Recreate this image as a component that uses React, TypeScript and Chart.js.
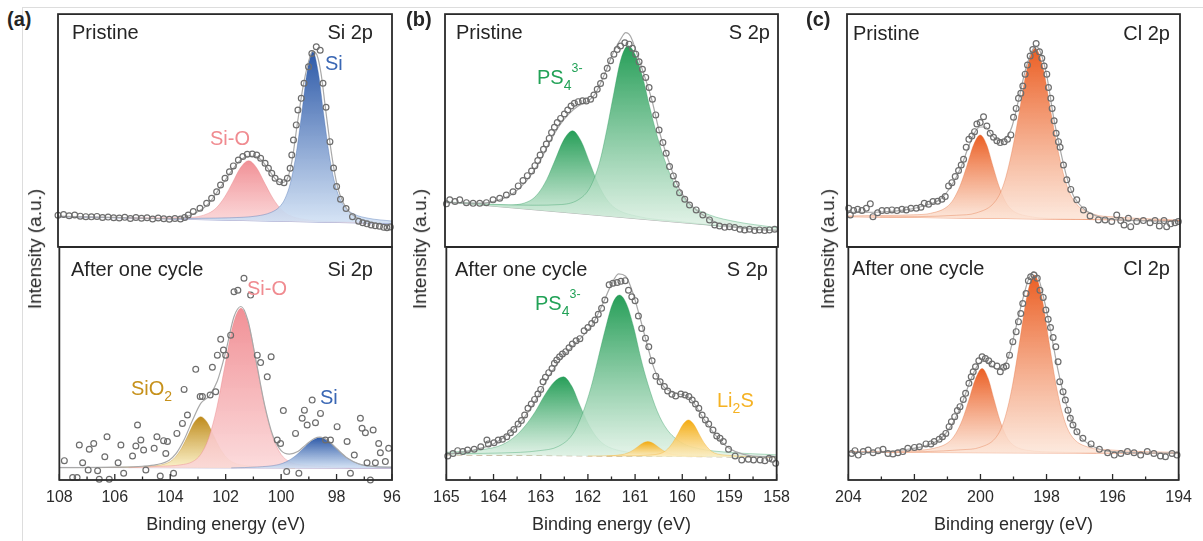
import React, { useEffect, useRef } from 'react';
import { Chart, registerables } from 'chart.js';

Chart.register(...registerables);

const FONT = '"Liberation Sans", Arial, Helvetica, sans-serif';
const TEXT = '#252525';
Chart.defaults.font.family = FONT;
Chart.defaults.color = TEXT;

// ---------------- (a) Si 2p, pristine ----------------
const aTopDataX = [108.0,107.8,107.6,107.4,107.2,107.0,106.8,106.6,106.4,106.2,106.0,105.8,105.6,105.4,105.2,105.0,104.8,104.6,104.4,104.2,104.0,103.8,103.6,103.45,103.32,103.14,102.9,102.66,102.48,102.3,102.16,102.0,101.84,101.7,101.52,101.36,101.2,101.02,100.86,100.72,100.56,100.44,100.32,100.2,100.04,99.88,99.76,99.66,99.6,99.54,99.44,99.38,99.26,99.16,99.0,98.88,98.72,98.58,98.48,98.37,98.23,98.1,97.99,97.85,97.65,97.42,97.2,97.05,96.9,96.75,96.6,96.45,96.3,96.18,96.06];
const aTopDataY = [13.6,13.9,13.4,13.7,13.2,13.0,12.9,13.1,12.6,12.8,12.5,12.4,12.7,12.2,12.6,12.3,12.5,12.0,12.4,12.1,11.9,12.2,12.0,12.6,13.7,15.2,16.6,18.7,20.9,23.7,26.6,29.5,32.3,34.8,37.3,38.8,39.8,39.9,39.5,38.1,35.9,33.8,31.6,29.5,28.0,27.6,29.5,33.8,39.5,45.9,52.4,58.8,63.8,70.3,77.4,83.1,86.0,84.5,70.3,60.0,45.2,33.9,25.9,20.5,16.5,13.0,11.0,10.4,9.9,9.4,9.1,8.9,8.4,8.2,8.6];
const aTopEnvX = [108,106,104.5,103.8,103.4,103.0,102.6,102.2,101.8,101.5,101.2,100.95,100.7,100.45,100.2,100.0,99.8,99.6,99.4,99.2,99.0,98.85,98.7,98.55,98.4,98.25,98.1,97.95,97.75,97.5,97.2,96.8,96.4,96];
const aTopEnvY = [13.2,12.7,12.2,12.1,12.9,15.0,18.5,25.0,32.0,36.6,38.9,39.0,37.3,33.5,29.3,27.6,28.5,36.5,53.0,68.5,79.5,84.0,82.5,74.5,60.5,46.5,34.5,25.5,19.0,14.6,12.2,10.6,9.7,9.4];
const aTopBgX = [108, 96];
const aTopBgY = [13.0, 10.0];
const aTopSiOX = [105.5,104.8,103.33,102.6,102.31,102.02,101.73,101.44,101.15,100.86,100.57,100.28,99.99,99.7,98.97,97.5,97.0];
const aTopSiOY = [12.38,12.5,12.6,14.4,16.8,21.3,27.6,34.1,37.0,33.9,27.3,20.9,16.2,13.6,11.5,10.7,10.25];
const aTopSiX = [104.0,102.85,101.85,100.85,100.35,100.05,99.85,99.65,99.45,99.25,99.05,98.85,98.65,98.45,98.25,98.05,97.85,97.65,97.35,96.85,96.0];
const aTopSiY = [12.0,12.3,12.5,13.3,14.8,17.1,20.6,27.5,39.5,56.7,75.2,84.0,75.1,56.5,39.2,27.1,20.1,16.5,14.0,12.3,11.1];

// ---------------- (a) Si 2p, after one cycle ----------------
const aBotDataX = [107.82,107.52,107.36,107.28,107.16,106.96,106.92,106.76,106.62,106.56,106.36,106.28,106.2,105.88,105.78,105.68,105.36,105.24,105.18,105.06,104.96,104.88,104.58,104.48,104.36,104.24,104.16,104.1,103.88,103.76,103.56,103.5,103.38,103.08,102.92,102.84,102.56,102.48,102.36,102.3,102.18,102.08,102.0,101.82,101.7,101.56,101.34,101.1,100.86,100.74,100.5,100.36,100.14,100.02,99.92,99.8,99.48,99.36,99.24,99.16,99.06,98.88,98.76,98.58,98.4,98.22,97.98,97.62,97.5,97.36,97.14,97.08,96.96,96.9,96.78,96.68,96.6,96.48,96.42,96.24,96.12];
const aBotDataY = [8.3,1.1,1.1,15.0,7.4,4.3,13.2,15.7,4.0,0.3,10.0,18.6,0.3,7.4,15.0,2.9,10.3,14.6,23.6,17.2,12.9,4.3,13.6,18.6,1.7,16.9,11.4,16.5,2.9,20.0,24.3,38.9,27.9,47.5,35.8,35.8,36.5,48.4,37.9,53.6,60.4,55.8,53.6,62.2,80.8,81.5,86.6,79.4,53.6,50.4,44.3,52.9,17.2,15.7,29.8,3.6,20.0,2.9,26.5,30.0,23.6,34.3,24.6,28.6,17.2,17.2,22.9,16.5,2.9,10.7,26.5,22.2,20.3,7.4,0.0,21.5,7.4,15.7,11.7,7.9,13.6];
const aBotEnvX = [108,106,105,104.5,104.05,103.8,103.5,103.2,102.9,102.6,102.3,102.0,101.7,101.45,101.2,100.9,100.6,100.3,100.0,99.7,99.4,99.1,98.8,98.6,98.3,98.0,97.6,97.2,96.6,96];
const aBotEnvY = [5.3,5.5,5.9,6.6,8.4,11.2,17.3,25.5,32.9,36.0,42.5,55.0,70.1,74.5,68.6,50.9,32.5,19.1,12.6,11.1,12.2,15.2,17.8,18.4,16.9,13.5,9.3,6.9,5.7,5.5];
const aBotBgX = [108, 96];
const aBotBgY = [5.4, 5.1];
const aBotSiO2X = [106.5,105.8,104.63,104.05,103.82,103.59,103.36,103.13,102.9,102.67,102.44,102.21,101.98,101.75,101.17,100.0,99.5];
const aBotSiO2Y = [5.3,5.5,6.0,7.6,9.8,13.7,19.2,24.8,27.2,24.8,19.2,13.7,9.8,7.6,6.0,5.4,5.2];
const aBotSiOX = [105.5,104.35,103.63,103.19,102.9,102.61,102.32,102.03,101.74,101.45,101.16,100.87,100.58,100.29,100.0,99.71,99.27,98.55,97.5];
const aBotSiOY = [5.3,5.9,6.5,7.9,11.0,18.1,31.0,48.9,66.3,73.7,66.3,48.9,31.0,18.1,11.0,7.9,6.5,5.9,5.2];
const aBotSiX = [101.8,100.85,100.1,99.8,99.5,99.2,98.9,98.6,98.3,98.0,97.7,97.4,97.1,96.35,96.0];
const aBotSiY = [5.2,5.6,6.6,7.9,10.2,13.5,16.8,18.3,16.8,13.5,10.2,7.9,6.6,5.6,5.4];

// ---------------- (b) S 2p, pristine ----------------
const bTopDataX = [164.97,164.9,164.79,164.69,164.55,164.41,164.27,164.13,163.99,163.85,163.71,163.57,163.46,163.36,163.27,163.18,163.11,163.05,163.0,162.93,162.87,162.81,162.76,162.7,162.64,162.57,162.49,162.42,162.35,162.28,162.2,162.11,162.03,161.94,161.87,161.8,161.73,161.66,161.59,161.52,161.45,161.38,161.31,161.22,161.13,161.06,160.99,160.92,160.85,160.78,160.71,160.64,160.57,160.5,160.42,160.35,160.28,160.2,160.14,160.07,159.96,159.86,159.72,159.58,159.44,159.33,159.23,159.12,159.02,158.91,158.8,158.7,158.6,158.49,158.39,158.28,158.18,158.07];
const bTopDataY = [18.5,20.2,19.5,20.2,19.0,18.7,18.7,19.0,20.2,20.9,22.3,23.7,26.2,28.5,30.6,32.6,34.9,37.1,39.5,41.9,44.2,46.6,49.1,51.4,53.4,55.2,57.1,58.8,60.5,61.7,62.4,62.8,62.7,63.4,65.2,67.7,70.2,73.4,76.7,80.0,82.8,84.8,86.3,87.7,87.1,85.3,82.8,79.5,76.3,72.8,68.5,63.4,56.7,50.2,44.8,40.2,34.5,30.5,26.9,23.3,20.5,18.0,15.9,13.7,11.6,9.4,9.0,8.4,8.7,8.3,7.6,7.3,7.6,7.0,7.3,7.0,7.3,7.6];
const bTopEnvX = [165,164.2,163.9,163.6,163.3,163.0,162.8,162.6,162.4,162.2,162.0,161.85,161.65,161.45,161.3,161.2,161.1,160.95,160.8,160.65,160.5,160.3,160.1,159.9,159.6,159.3,158.9,158.5,158];
const bTopEnvY = [19.0,18.8,20.0,22.5,28.0,37.0,45.0,52.0,57.0,60.5,62.5,65.5,74.0,84.0,89.5,92.0,90.5,82.0,73.0,63.0,50.0,37.0,26.0,19.5,14.0,10.5,8.5,7.5,7.2];
const bTopBgX = [165, 158];
const bTopBgY = [19.3, 6.8];
const bTopLX = [165.0,164.57,163.67,163.22,163.04,162.86,162.68,162.5,162.32,162.14,161.96,161.78,161.6,161.42,160.97,160.07,159.2];
const bTopLY = [19.3,18.9,18.0,19.8,23.0,29.0,37.6,46.1,49.9,45.5,36.3,27.0,20.4,16.6,13.2,10.9,8.9];
const bTopRX = [165.0,164.0,163.15,162.55,162.15,161.95,161.75,161.6,161.45,161.3,161.15,161.0,160.85,160.7,160.55,160.35,160.15,159.85,159.45,158.85,158.15,158.0];
const bTopRY = [19.3,18.3,17.9,18.2,20.9,25.6,36.4,50.2,66.2,80.8,86.4,82.5,73.3,60.4,48.4,35.4,26.1,18.2,13.8,10.7,8.6,8.1];

// ---------------- (b) S 2p, after one cycle ----------------
const bBotDataX = [164.97,164.86,164.76,164.65,164.55,164.41,164.27,164.14,164.11,163.99,163.9,163.81,163.72,163.64,163.57,163.48,163.41,163.34,163.27,163.2,163.13,163.06,163.0,162.95,162.9,162.83,162.76,162.71,162.66,162.6,162.54,162.47,162.4,162.33,162.25,162.17,162.08,162.0,161.92,161.85,161.78,161.71,161.64,161.55,161.47,161.38,161.3,161.21,161.14,161.07,161.0,160.93,160.86,160.78,160.71,160.64,160.56,160.47,160.38,160.31,160.22,160.14,160.03,159.94,159.86,159.79,159.72,159.65,159.58,159.51,159.44,159.35,159.27,159.2,159.13,159.02,158.88,158.74,158.6,158.49,158.35,158.25,158.16,158.09,158.02];
const bBotDataY = [10.3,11.4,12.6,12.2,12.9,13.2,14.3,17.2,15.5,16.0,17.2,17.5,18.6,20.3,21.7,24.0,25.5,27.9,30.8,32.6,34.6,36.9,38.9,42.2,44.1,46.1,47.9,50.1,51.5,52.9,54.1,55.1,56.8,58.4,59.8,60.7,64.1,65.5,67.2,68.7,71.2,73.7,77.3,83.8,84.5,84.8,85.3,85.6,81.5,78.7,77.0,70.4,65.1,60.9,57.2,51.2,44.6,42.2,40.1,38.2,36.8,36.1,36.9,36.5,35.8,34.3,32.6,30.8,27.9,25.8,24.0,21.5,18.9,17.9,16.5,13.2,10.3,8.6,8.9,8.6,8.6,8.3,9.3,8.9,7.2];
const bBotEnvX = [165,164.5,164.0,163.7,163.4,163.1,162.9,162.7,162.5,162.3,162.1,161.9,161.7,161.5,161.35,161.2,161.05,160.9,160.75,160.6,160.45,160.3,160.1,159.9,159.75,159.6,159.4,159.2,159.0,158.7,158.3,158];
const bBotEnvY = [11.0,12.5,15.5,19.5,25.5,34.5,42.0,48.5,53.5,58.0,62.0,67.0,75.0,84.0,88.5,87.5,80.5,70.0,58.5,48.0,41.5,38.5,37.0,36.0,33.0,28.0,22.0,17.0,13.5,11.0,10.0,10.0];
const bBotBgX = [165, 158];
const bBotBgY = [10.8, 9.8];
const bBotLX = [165.0,164.22,163.82,163.52,163.32,163.12,162.92,162.72,162.52,162.34,162.16,161.98,161.8,161.62,161.17,160.72,159.82,158.8];
const bBotLY = [11.9,13.1,15.1,19.1,23.5,29.2,36.3,42.0,44.3,40.2,31.6,23.6,18.0,14.8,12.0,11.2,10.6,9.9];
const bBotRX = [165.0,163.83,163.03,162.63,162.33,162.13,161.93,161.78,161.63,161.48,161.33,161.18,161.03,160.88,160.73,160.53,160.33,160.03,159.63,159.03,158.0];
const bBotRY = [11.3,11.6,12.6,14.4,19.5,27.7,40.1,52.5,64.9,75.6,79.4,75.5,65.6,52.4,41.3,29.5,21.9,16.2,13.4,11.9,10.8];
const bBotG1X = [162.0,161.56,161.28,161.17,161.06,160.95,160.84,160.73,160.62,160.51,160.4,160.29,160.18,159.9,159.5];
const bBotG1Y = [10.3,10.4,10.9,11.5,12.6,14.2,15.8,16.5,15.8,14.2,12.6,11.5,10.9,10.4,10.0];
const bBotLi2SX = [161.6,161.17,160.7,160.42,160.31,160.2,160.09,159.98,159.87,159.76,159.65,159.54,159.43,159.32,159.04,158.57,158.0];
const bBotLi2SY = [10.3,10.4,10.7,11.7,13.3,16.1,20.0,24.0,25.8,24.0,20.0,16.0,13.2,11.6,10.6,10.1,9.8];

// ---------------- (c) Cl 2p, pristine ----------------
const cTopDataX = [203.95,203.9,203.8,203.68,203.55,203.42,203.3,203.22,203.08,202.95,202.8,202.65,202.5,202.35,202.22,202.08,201.92,201.78,201.68,201.55,201.42,201.28,201.15,201.05,200.95,200.85,200.75,200.65,200.57,200.5,200.42,200.34,200.25,200.17,200.1,200.0,199.9,199.8,199.7,199.6,199.5,199.4,199.28,199.18,199.08,199.0,198.92,198.85,198.78,198.72,198.65,198.58,198.5,198.42,198.32,198.22,198.15,198.08,198.0,197.95,197.88,197.84,197.78,197.72,197.65,197.6,197.5,197.4,197.28,197.1,196.9,196.7,196.45,196.25,196.05,195.9,195.78,195.68,195.55,195.48,195.3,195.1,194.9,194.75,194.62,194.48,194.4,194.28,194.15,194.05];
const cTopDataY = [16.6,13.7,15.6,16.2,15.6,16.6,18.5,13.0,14.7,15.6,15.6,15.9,15.6,16.2,15.9,16.6,16.6,17.0,18.7,18.3,19.5,19.6,20.5,21.6,26.2,27.6,30.2,32.8,35.2,37.6,42.8,46.2,47.6,49.5,52.8,53.4,55.9,51.9,48.8,47.1,45.6,44.8,45.2,46.2,48.1,55.7,59.5,63.8,66.0,69.1,74.2,78.1,82.0,84.8,87.4,83.8,81.0,77.7,74.2,68.5,63.8,59.5,54.2,48.8,45.2,42.8,35.2,28.8,24.7,20.2,15.9,13.3,11.6,11.6,10.9,13.7,11.3,9.4,12.3,8.7,10.9,11.3,10.4,11.3,9.0,11.3,8.7,9.9,10.4,10.9];
const cTopEnvX = [204,203,202.2,201.6,201.2,200.9,200.6,200.35,200.15,200.0,199.85,199.65,199.45,199.25,199.05,198.85,198.65,198.45,198.33,198.2,198.0,197.8,197.6,197.4,197.2,196.9,196.5,196,195,194];
const cTopEnvY = [14.8,15.0,16.0,18.0,20.5,25.5,33.5,43.0,49.5,51.5,51.5,48.0,45.8,46.5,51.5,63.0,75.5,84.0,86.0,84.0,73.5,56.0,42.0,30.0,22.0,16.5,13.2,11.8,11.2,10.8];
const cTopBgX = [204, 194];
const cTopBgY = [13.0, 11.3];
const cTopLX = [204.0,203.0,202.0,201.5,201.0,200.8,200.6,200.4,200.2,200.0,199.81,199.62,199.43,199.24,199.05,198.57,197.6,196.5];
const cTopLY = [13.3,13.5,13.8,14.4,17.2,20.5,26.4,34.8,43.8,48.1,44.0,34.8,25.8,19.4,15.9,13.2,12.1,11.7];
const cTopRX = [203.0,201.89,200.71,200.12,199.53,199.29,199.06,198.82,198.59,198.35,198.11,197.88,197.64,197.41,197.17,196.58,195.99,194.81,194.0];
const cTopRY = [12.9,13.0,13.6,14.6,19.9,27.1,40.1,58.4,76.9,85.3,76.8,58.2,39.8,26.8,19.5,14.0,12.9,12.0,11.5];

// ---------------- (c) Cl 2p, after one cycle ----------------
const cBotDataX = [203.9,203.8,203.7,203.55,203.4,203.25,203.1,202.95,202.8,202.65,202.5,202.35,202.2,202.0,201.85,201.65,201.5,201.4,201.25,201.15,201.05,200.95,200.88,200.78,200.7,200.62,200.52,200.45,200.35,200.28,200.22,200.15,200.05,199.95,199.85,199.75,199.65,199.5,199.4,199.3,199.22,199.12,199.02,198.92,198.85,198.78,198.72,198.62,198.55,198.48,198.38,198.28,198.2,198.1,198.02,197.95,197.88,197.8,197.72,197.65,197.6,197.5,197.43,197.35,197.28,197.2,197.08,196.9,196.65,196.4,196.15,195.95,195.75,195.55,195.35,195.15,194.95,194.75,194.55,194.4,194.2,194.05];
const cBotDataY = [11.4,12.6,10.7,12.2,12.9,11.7,12.6,13.2,11.4,11.2,11.7,12.2,13.6,14.0,14.3,15.5,15.5,16.5,17.5,18.6,20.0,22.9,25.0,27.2,29.8,31.5,34.6,37.2,41.5,44.3,46.5,48.6,51.2,52.9,52.2,51.2,49.8,48.9,46.5,48.4,48.9,53.6,59.4,63.7,68.0,71.5,75.8,80.1,85.6,87.3,88.0,86.6,81.5,78.4,73.0,69.0,65.5,61.2,57.2,50.8,42.2,37.9,34.3,30.0,26.5,23.6,20.7,17.9,15.5,13.2,11.7,10.7,11.4,12.2,11.7,10.7,12.2,11.4,10.3,10.0,11.4,10.7];
const cBotEnvX = [204,203,202.2,201.6,201.2,200.9,200.6,200.35,200.15,200.0,199.85,199.7,199.5,199.35,199.15,198.95,198.75,198.55,198.4,198.25,198.05,197.85,197.65,197.45,197.25,197.0,196.6,196.1,195,194];
const cBotEnvY = [11.8,12.0,13.2,15.0,17.8,23.0,31.5,41.0,47.8,50.5,51.0,49.5,47.5,47.8,53.0,64.0,76.0,86.0,89.5,87.0,76.0,62.0,47.0,35.0,26.0,19.0,14.5,12.3,11.6,11.5];
const cBotBgX = [204, 194];
const cBotBgY = [11.9, 11.5];
const cBotLX = [204.0,202.95,201.95,201.45,200.95,200.75,200.55,200.35,200.15,199.95,199.77,199.59,199.41,199.23,199.05,198.6,197.7,196.5];
const cBotLY = [12.2,12.3,12.7,13.5,16.4,19.9,25.8,34.4,43.5,47.9,43.7,34.6,25.5,19.0,15.5,12.8,12.0,11.6];
const cBotRX = [203.0,201.67,200.57,200.02,199.47,199.25,199.03,198.81,198.59,198.37,198.15,197.93,197.71,197.49,197.27,196.72,196.17,195.07,194.0];
const cBotRY = [12.0,12.2,13.0,14.0,19.5,27.1,40.7,59.8,79.1,88.0,79.1,59.8,40.7,27.1,19.5,14.0,13.0,12.2,11.9];

// ---------------- styles ----------------
const BLUE = '#3a67b4';
const PINK = '#f08b90';
const GOLD = '#c6911b';
const GREEN = '#22a257';
const AMBER = '#f5b223';

type Peak = { x: number[]; y: number[]; top: string; bottom: string; edge: string };
type Spec = {
  id: string; left: number; width: number; top: number; height: number; axis: boolean;
  min: number; max: number; step: number;
  dataX: number[]; dataY: number[]; envX: number[]; envY: number[];
  bgX: number[]; bgY: number[]; bgColor: string; bgDash: number[]; peaks: Peak[];
};

const blueTop = { top: 'rgba(36,82,164,0.96)', bottom: 'rgba(207,223,243,0.9)', edge: 'rgba(60,100,170,0.45)' };
const pinkTop = { top: 'rgba(240,136,142,0.93)', bottom: 'rgba(251,215,216,0.9)', edge: 'rgba(230,120,126,0.45)' };
const goldStyle = { top: 'rgba(188,134,18,0.96)', bottom: 'rgba(251,240,196,0.9)', edge: 'rgba(190,140,40,0.45)' };
const greenStyle = { top: 'rgba(20,150,74,0.92)', bottom: 'rgba(222,241,228,0.82)', edge: 'rgba(40,150,90,0.45)' };
const amberStyle = { top: 'rgba(243,168,8,0.96)', bottom: 'rgba(253,238,195,0.88)', edge: 'rgba(240,170,40,0.45)' };
const orangeStyle = { top: 'rgba(234,86,24,0.95)', bottom: 'rgba(252,228,214,0.82)', edge: 'rgba(225,110,60,0.45)' };

const SPECS: Spec[] = [
  { id: 'aTop', left: 58, width: 334, top: 14, height: 233, axis: false, min: 96, max: 108, step: 2,
    dataX: aTopDataX, dataY: aTopDataY, envX: aTopEnvX, envY: aTopEnvY, bgX: aTopBgX, bgY: aTopBgY,
    bgColor: 'rgba(120,130,190,0.8)', bgDash: [],
    peaks: [ { x: aTopSiX, y: aTopSiY, ...blueTop }, { x: aTopSiOX, y: aTopSiOY, ...pinkTop } ] },
  { id: 'aBot', left: 58, width: 334, top: 247, height: 233, axis: true, min: 96, max: 108, step: 2,
    dataX: aBotDataX, dataY: aBotDataY, envX: aBotEnvX, envY: aBotEnvY, bgX: aBotBgX, bgY: aBotBgY,
    bgColor: 'rgba(130,110,170,0.8)', bgDash: [],
    peaks: [ { x: aBotSiX, y: aBotSiY, ...blueTop }, { x: aBotSiOX, y: aBotSiOY, ...pinkTop }, { x: aBotSiO2X, y: aBotSiO2Y, ...goldStyle } ] },
  { id: 'bTop', left: 445, width: 333, top: 14, height: 233, axis: false, min: 158, max: 165, step: 1,
    dataX: bTopDataX, dataY: bTopDataY, envX: bTopEnvX, envY: bTopEnvY, bgX: bTopBgX, bgY: bTopBgY,
    bgColor: 'rgba(150,150,150,0.8)', bgDash: [],
    peaks: [ { x: bTopRX, y: bTopRY, ...greenStyle }, { x: bTopLX, y: bTopLY, ...greenStyle } ] },
  { id: 'bBot', left: 445, width: 333, top: 247, height: 233, axis: true, min: 158, max: 165, step: 1,
    dataX: bBotDataX, dataY: bBotDataY, envX: bBotEnvX, envY: bBotEnvY, bgX: bBotBgX, bgY: bBotBgY,
    bgColor: 'rgba(150,120,70,0.8)', bgDash: [6, 4],
    peaks: [ { x: bBotLi2SX, y: bBotLi2SY, ...amberStyle }, { x: bBotG1X, y: bBotG1Y, ...amberStyle }, { x: bBotRX, y: bBotRY, ...greenStyle }, { x: bBotLX, y: bBotLY, ...greenStyle } ] },
  { id: 'cTop', left: 847, width: 333, top: 14, height: 233, axis: false, min: 194, max: 204, step: 2,
    dataX: cTopDataX, dataY: cTopDataY, envX: cTopEnvX, envY: cTopEnvY, bgX: cTopBgX, bgY: cTopBgY,
    bgColor: 'rgba(230,110,60,0.8)', bgDash: [],
    peaks: [ { x: cTopRX, y: cTopRY, ...orangeStyle }, { x: cTopLX, y: cTopLY, ...orangeStyle } ] },
  { id: 'cBot', left: 847, width: 333, top: 247, height: 233, axis: true, min: 194, max: 204, step: 2,
    dataX: cBotDataX, dataY: cBotDataY, envX: cBotEnvX, envY: cBotEnvY, bgX: cBotBgX, bgY: cBotBgY,
    bgColor: 'rgba(230,110,60,0.8)', bgDash: [],
    peaks: [ { x: cBotRX, y: cBotRY, ...orangeStyle }, { x: cBotLX, y: cBotLY, ...orangeStyle } ] },
];

function zip(xs: number[], ys: number[]) {
  return xs.map((x, i) => ({ x, y: ys[i] }));
}

function gradient(c: any, p: Peak) {
  const chart = c.chart;
  const area = chart.chartArea;
  if (!area) return p.bottom;
  const ys = chart.scales.y;
  const top = ys.getPixelForValue(Math.max(...p.y));
  const bot = ys.getPixelForValue(Math.min(...p.y));
  const g = chart.ctx.createLinearGradient(0, top, 0, bot);
  g.addColorStop(0, p.top);
  g.addColorStop(1, p.bottom);
  return g;
}

function framePlugin(axis: boolean) {
  return {
    id: 'xpsFrame',
    afterDatasetsDraw(chart: any) {
      const { ctx, chartArea: a } = chart;
      ctx.save();
      ctx.strokeStyle = '#2a2a2a';
      ctx.lineWidth = 1.8;
      ctx.strokeRect(a.left, a.top, a.right - a.left, a.bottom - a.top);
      if (axis) {
        const xs = chart.scales.x;
        const vals: number[] = xs.ticks.map((t: any) => t.value);
        ctx.lineWidth = 1.3;
        ctx.beginPath();
        vals.forEach((v, i) => {
          const px = xs.getPixelForValue(v);
          ctx.moveTo(px, a.bottom);
          ctx.lineTo(px, a.bottom - 6);
          if (i < vals.length - 1) {
            const m = xs.getPixelForValue((v + vals[i + 1]) / 2);
            ctx.moveTo(m, a.bottom);
            ctx.lineTo(m, a.bottom - 3.5);
          }
        });
        ctx.stroke();
      }
      ctx.restore();
    },
  };
}

function makeChart(canvas: HTMLCanvasElement, s: Spec) {
  const bgIndex = 2 + s.peaks.length;
  const datasets: any[] = [
    {
      label: 'data', data: zip(s.dataX, s.dataY), showLine: false,
      pointRadius: 2.9, pointHoverRadius: 2.9, pointBorderWidth: 1.2,
      pointBorderColor: '#6d6d6d', pointBackgroundColor: 'rgba(255,255,255,0)',
      borderColor: '#6d6d6d', backgroundColor: 'rgba(0,0,0,0)', fill: false, clip: false,
    },
    {
      label: 'envelope', data: zip(s.envX, s.envY), borderColor: '#a9a9a9', borderWidth: 1.2,
      pointRadius: 0, fill: false, cubicInterpolationMode: 'monotone',
    },
    ...s.peaks.map((p, i) => ({
      label: 'peak' + i, data: zip(p.x, p.y), borderColor: p.edge, borderWidth: 0.8,
      pointRadius: 0, cubicInterpolationMode: 'monotone', fill: { target: bgIndex },
      backgroundColor: (c: any) => gradient(c, p),
    })),
    {
      label: 'background', data: zip(s.bgX, s.bgY), borderColor: s.bgColor, borderWidth: 1,
      borderDash: s.bgDash, pointRadius: 0, fill: false, tension: 0,
    },
  ];
  const xScale: any = {
    type: 'linear', min: s.min, max: s.max, reverse: true, display: s.axis,
    grid: { display: false, drawTicks: false },
    border: { display: false },
    ticks: { stepSize: s.step, autoSkip: false, maxRotation: 0, padding: 8, color: '#2b2b2b', font: { family: FONT, size: 16 } },
    title: { display: s.axis, text: 'Binding energy (eV)', color: '#2b2b2b', font: { family: FONT, size: 18 }, padding: { top: 0, bottom: 5 } },
  };
  if (s.axis) {
    xScale.afterFit = (scale: any) => { scale.height = 61; };
  }
  return new Chart(canvas, {
    type: 'line',
    data: { datasets },
    options: {
      responsive: false,
      maintainAspectRatio: false,
      animation: false,
      events: [],
      layout: { padding: { left: 20, right: 20, top: 4, bottom: s.axis ? 0 : 4 } },
      plugins: { legend: { display: false }, tooltip: { enabled: false } },
      scales: {
        x: xScale,
        y: { type: 'linear', min: 0, max: 100, display: false },
      },
    } as any,
    plugins: [framePlugin(s.axis)],
  });
}

function Plot({ spec }: { spec: Spec }) {
  const ref = useRef<HTMLCanvasElement | null>(null);
  const cw = spec.width + 40;
  const ch = spec.axis ? 541 - (spec.top - 4) : spec.height + 8;
  useEffect(() => {
    const canvas = ref.current;
    if (!canvas) return;
    const chart = makeChart(canvas, spec);
    return () => chart.destroy();
  }, [spec]);
  return (
    <canvas ref={ref} width={cw} height={ch}
      style={{ position: 'absolute', left: spec.left - 20, top: spec.top - 4, width: cw, height: ch, display: 'block' }} />
  );
}

function Txt({ x, y, align = 'left', size = 20, color = TEXT, weight = 400, children }: any) {
  const tx = align === 'left' ? '0' : align === 'right' ? '-100%' : '-50%';
  return (
    <div style={{ position: 'absolute', left: x, top: y, transform: `translate(${tx}, -50%)`, fontFamily: FONT,
      fontSize: size, color, fontWeight: weight, lineHeight: 1.15, whiteSpace: 'nowrap' }}>{children}</div>
  );
}

function VTxt({ x, y, size = 19, children }: any) {
  return (
    <div style={{ position: 'absolute', left: x, top: y, transform: 'translate(-50%, -50%) rotate(-90deg)', fontFamily: FONT,
      fontSize: size, color: TEXT, lineHeight: 1.15, whiteSpace: 'nowrap' }}>{children}</div>
  );
}

const Sub = ({ children }: any) => <span style={{ fontSize: '0.7em', verticalAlign: '-0.45em', lineHeight: 0 }}>{children}</span>;
const Sup = ({ children }: any) => <span style={{ fontSize: '0.62em', verticalAlign: '0.95em', lineHeight: 0 }}>{children}</span>;

export default function App() {
  return (
    <div style={{ position: 'absolute', left: 0, top: 0, width: 1203, height: 541, background: '#ffffff', overflow: 'hidden', fontFamily: FONT }}>
      <div style={{ position: 'absolute', left: 22, top: 7, width: 1181, height: 534, borderTop: '1px solid #dddddd', borderLeft: '1px solid #dddddd' }} />
      {SPECS.map((s) => <Plot key={s.id} spec={s} />)}

      <Txt x={7} y={19} weight={700}>(a)</Txt>
      <Txt x={406} y={19} weight={700}>(b)</Txt>
      <Txt x={806} y={19} weight={700}>(c)</Txt>

      <Txt x={72} y={32}>Pristine</Txt>
      <Txt x={373} y={32} align="right">Si 2p</Txt>
      <Txt x={325} y={63} color={BLUE}>Si</Txt>
      <Txt x={210} y={138} color={PINK}>Si-O</Txt>
      <Txt x={71} y={269}>After one cycle</Txt>
      <Txt x={373} y={269} align="right">Si 2p</Txt>
      <Txt x={247} y={288} color={PINK}>Si-O</Txt>
      <Txt x={131} y={388} color={GOLD}>SiO<Sub>2</Sub></Txt>
      <Txt x={320} y={397} color={BLUE}>Si</Txt>

      <Txt x={456} y={32}>Pristine</Txt>
      <Txt x={770} y={32} align="right">S 2p</Txt>
      <Txt x={537} y={77} color={GREEN}>PS<Sub>4</Sub><Sup>3-</Sup></Txt>
      <Txt x={455} y={269}>After one cycle</Txt>
      <Txt x={768} y={269} align="right">S 2p</Txt>
      <Txt x={535} y={303} color={GREEN}>PS<Sub>4</Sub><Sup>3-</Sup></Txt>
      <Txt x={717} y={400} color={AMBER}>Li<Sub>2</Sub>S</Txt>

      <Txt x={853} y={33}>Pristine</Txt>
      <Txt x={1170} y={33} align="right">Cl 2p</Txt>
      <Txt x={852} y={268}>After one cycle</Txt>
      <Txt x={1170} y={268} align="right">Cl 2p</Txt>

      <VTxt x={35} y={249}>Intensity (a.u.)</VTxt>
      <VTxt x={420} y={249}>Intensity (a.u.)</VTxt>
      <VTxt x={828} y={249}>Intensity (a.u.)</VTxt>
    </div>
  );
}
